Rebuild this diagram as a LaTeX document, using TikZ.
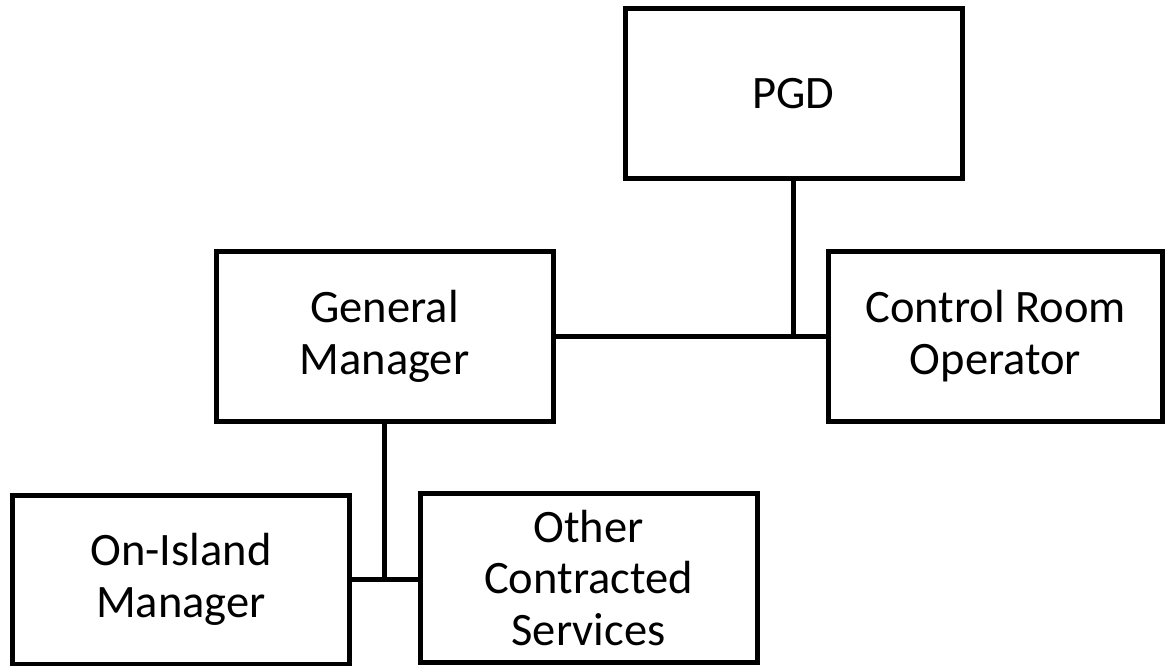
\documentclass[tikz,border=0pt]{standalone}
\usepackage{fontspec}
\setmainfont{Carlito}
\begin{document}
\begin{tikzpicture}[x=1pt,y=-1pt,
  box/.style={draw=black, line width=5pt, minimum width=337pt, minimum height=170pt,
    inner sep=0pt, align=center, font=\fontsize{46.5}{51.5}\selectfont},
  link/.style={draw=black, line width=4.5pt}]
\useasboundingbox (0,0) rectangle (1165,666);
\node[box] (PGD) at (793.5,93.5) {PGD};
\node[box] (GM) at (384.5,336.5) {General\\Manager};
\node[box, minimum width=334pt] (CRO) at (995.5,336) {Control Room\\Operator};
\node[box, minimum height=169pt] (OIM) at (181,579.5) {On-Island\\Manager};
\node[box, minimum height=169pt] (OCS) at (588.5,578) {Other\\Contracted\\Services};
\draw[link] (PGD.south) -- (PGD.south |- GM.east);
\draw[link] (GM.east) -- (CRO.west |- GM.east);
\draw[link] (GM.south) -- (GM.south |- OIM.east);
\draw[link] (OIM.east) -- (OCS.west |- OIM.east);
\end{tikzpicture}
\end{document}
